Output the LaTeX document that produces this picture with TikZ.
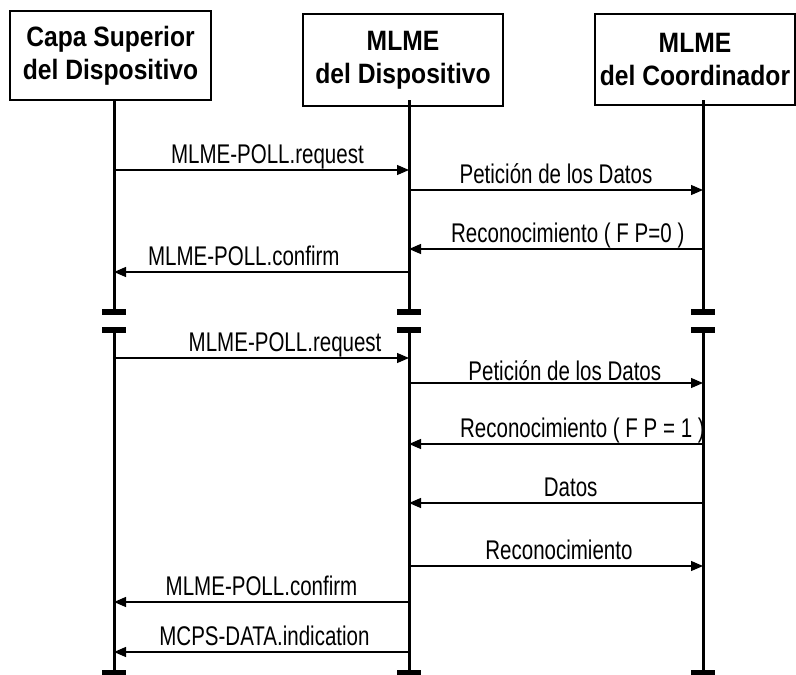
\documentclass[tikz,border=0pt]{standalone}
\usepackage{fontspec}
\usetikzlibrary{arrows.meta}
\newfontfamily\headfont[FakeStretch=0.88]{Liberation Sans Bold}
\newfontfamily\msgfont[FakeStretch=0.76]{Liberation Sans}
\begin{document}
\begin{tikzpicture}[x=1pt,y=-1pt,
  actor/.style={draw,line width=1.5pt,inner sep=0pt,align=center,
    font=\headfont\fontsize{28}{33}\selectfont},
  life/.style={line width=3pt},
  brk/.style={line width=6pt},
  msg/.style={line width=1.2pt,-{Triangle[length=12pt,width=10pt]}},
  lbl/.style={font=\msgfont\fontsize{27}{30}\selectfont,inner sep=0pt,anchor=base}]
\useasboundingbox (0,0) rectangle (796,675);
% participants
\node[actor,minimum width=201pt,minimum height=89pt] (a) at (110.5,55.5) {Capa Superior\\del Dispositivo};
\node[actor,minimum width=200pt,minimum height=92pt] (b) at (403,60) {MLME\\del Dispositivo};
\node[actor,minimum width=200pt,minimum height=91pt] (c) at (695,59.5) {MLME\\del Coordinador};
% lifeline points
\foreach \n/\x in {A/114,B/409,C/703}{
  \coordinate (\n top) at (\x,100);
  \coordinate (\n brkU) at (\x,312);
  \coordinate (\n brkL) at (\x,330);
  \coordinate (\n end) at (\x,673);
  \draw[life] (\n top) -- (\n brkU);
  \draw[life] (\n brkL) -- (\n end);
  \draw[brk] ([xshift=-12pt]\n brkU) -- ([xshift=12pt]\n brkU);
  \draw[brk] ([xshift=-12pt]\n brkL) -- ([xshift=12pt]\n brkL);
  \draw[brk] ([xshift=-12pt]\n end) -- ([xshift=12pt]\n end);
}
% message rows
\foreach \i/\y in {1/170,2/190,3/249,4/272,5/358,6/383,7/444,8/503,9/566,10/602,11/652}{
  \coordinate (A\i) at (114,\y);
  \coordinate (B\i) at (409,\y);
  \coordinate (C\i) at (703,\y);
}
\draw[msg] (A1) -- (B1) node[lbl,pos=0.52,yshift=7pt] {MLME-POLL.request};
\draw[msg] (B2) -- (C2) node[lbl,pos=0.50,yshift=7pt] {Petición de los Datos};
\draw[msg] (C3) -- (B3) node[lbl,pos=0.46,yshift=7pt] {Reconocimiento ( F P=0 )};
\draw[msg] (B4) -- (A4) node[lbl,pos=0.56,yshift=7pt] {MLME-POLL.confirm};
\draw[msg] (A5) -- (B5) node[lbl,pos=0.58,yshift=7pt] {MLME-POLL.request};
\draw[msg] (B6) -- (C6) node[lbl,pos=0.53,yshift=3pt] {Petición de los Datos};
\draw[msg] (C7) -- (B7) node[lbl,pos=0.41,yshift=7pt] {Reconocimiento ( F P = 1 )};
\draw[msg] (C8) -- (B8) node[lbl,pos=0.45,yshift=7pt] {Datos};
\draw[msg] (B9) -- (C9) node[lbl,pos=0.51,yshift=7pt] {Reconocimiento};
\draw[msg] (B10) -- (A10) node[lbl,pos=0.50,yshift=7pt] {MLME-POLL.confirm};
\draw[msg] (B11) -- (A11) node[lbl,pos=0.49,yshift=7pt] {MCPS-DATA.indication};
\end{tikzpicture}
\end{document}
